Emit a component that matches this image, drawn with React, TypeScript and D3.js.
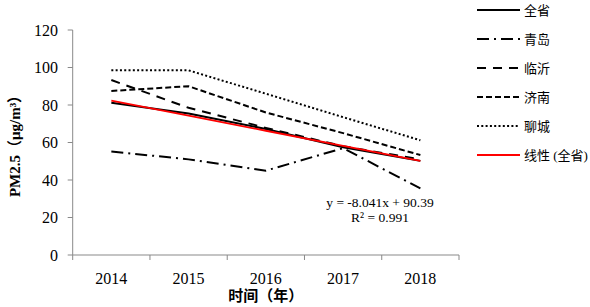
import React from "react";
import * as d3 from "d3";

const years = ["2014", "2015", "2016", "2017", "2018"];
const province = [81.2, 75.5, 67.2, 57.5, 50.2];
const qingdao = [55.2, 51, 45, 57, 35.5];
const linyi = [93.3, 78.5, 67.8, 58, 51];
const jinan = [87.5, 90, 76, 65, 53.3];
const liaocheng = [98.5, 98.5, 86, 73.5, 61.2];
const trendSlope = -8.041;
const trendIntercept = 90.39;
const yTicks = [0, 20, 40, 60, 80, 100, 120];

const seriesNames = ["全省", "青岛", "临沂", "济南", "聊城", "线性 (全省)"];

export default function App() {
  const W = 590, H = 307;
  const left = 72.7, right = 459, top = 30, bottom = 255;
  const x = d3.scaleBand<string>().domain(years).range([left, right]);
  const y = d3.scaleLinear().domain([0, 120]).range([bottom, top]);
  const cx = (i: number) => (x(years[i]) as number) + x.bandwidth() / 2;
  const line = d3.line<number>().x((_, i) => cx(i)).y((d) => y(d));
  const trend = years.map((_, i) => trendSlope * (i + 1) + trendIntercept);

  const series = [
    { data: province, color: "#000", dash: "none", w: 2 },
    { data: qingdao, color: "#000", dash: "12 5 2 5", w: 2 },
    { data: linyi, color: "#000", dash: "9 7", w: 2 },
    { data: jinan, color: "#000", dash: "6 3", w: 2 },
    { data: liaocheng, color: "#000", dash: "2 2.3", w: 2 },
    { data: trend, color: "#ff0000", dash: "none", w: 1.8 },
  ];
  const axisColor = "#898989";
  const serif = "'Liberation Serif', 'Times New Roman', serif";
  const cjk = "'Liberation Serif', 'Noto Sans CJK SC', serif";
  const legendY = [10, 39, 68, 97, 126, 155];

  return (
    <svg width={W} height={H} style={{ position: "absolute", left: 0, top: 0, background: "#fff" }}>
      {/* axes */}
      <line x1={left} x2={left} y1={top} y2={bottom} stroke={axisColor} strokeWidth={1} />
      <line x1={left} x2={right} y1={bottom} y2={bottom} stroke={axisColor} strokeWidth={1} />
      {yTicks.map((t) => (
        <g key={t}>
          <line x1={left - 5} x2={left} y1={y(t)} y2={y(t)} stroke={axisColor} />
          <text x={58} y={y(t)} dy="0.35em" textAnchor="end" fontFamily={serif} fontSize={16} fill="#000">
            {t}
          </text>
        </g>
      ))}
      {years.map((yr) => (
        <line key={"t" + yr} x1={x(yr) as number} x2={x(yr) as number} y1={bottom} y2={bottom + 5} stroke={axisColor} />
      ))}
      <line x1={right} x2={right} y1={bottom} y2={bottom + 5} stroke={axisColor} />
      {years.map((yr, i) => (
        <text key={"l" + yr} x={cx(i)} y={284} textAnchor="middle" fontFamily={serif} fontSize={16} fill="#000">
          {yr}
        </text>
      ))}
      <text x={(left + right) / 2} y={301} textAnchor="middle" fontFamily={cjk} fontSize={15} fontWeight="bold" fill="#000">
        时间（年）
      </text>
      <text
        transform={`translate(20, ${(top + bottom) / 2}) rotate(-90)`}
        textAnchor="middle"
        fontFamily={cjk}
        fontSize={15}
        fontWeight="bold"
        fill="#000"
      >
        PM2.5（μg/m³）
      </text>

      {/* series */}
      {series.map((s, k) => (
        <path
          key={k}
          d={line(s.data) as string}
          fill="none"
          stroke={s.color}
          strokeWidth={s.w}
          strokeDasharray={s.dash}
        />
      ))}

      {/* equation */}
      <text x={380} y={207} textAnchor="middle" fontFamily={serif} fontSize={13.5} fill="#000">
        y = -8.041x + 90.39
      </text>
      <text x={380} y={222} textAnchor="middle" fontFamily={serif} fontSize={13.5} fill="#000">
        R² = 0.991
      </text>

      {/* legend */}
      {series.map((s, k) => (
        <g key={"lg" + k}>
          <line x1={477} x2={520} y1={legendY[k]} y2={legendY[k]} stroke={s.color} strokeWidth={s.w} strokeDasharray={s.dash} />
          <text x={524} y={legendY[k]} dy="0.35em" fontFamily={cjk} fontSize={13} fill="#000">
            {seriesNames[k]}
          </text>
        </g>
      ))}
    </svg>
  );
}
